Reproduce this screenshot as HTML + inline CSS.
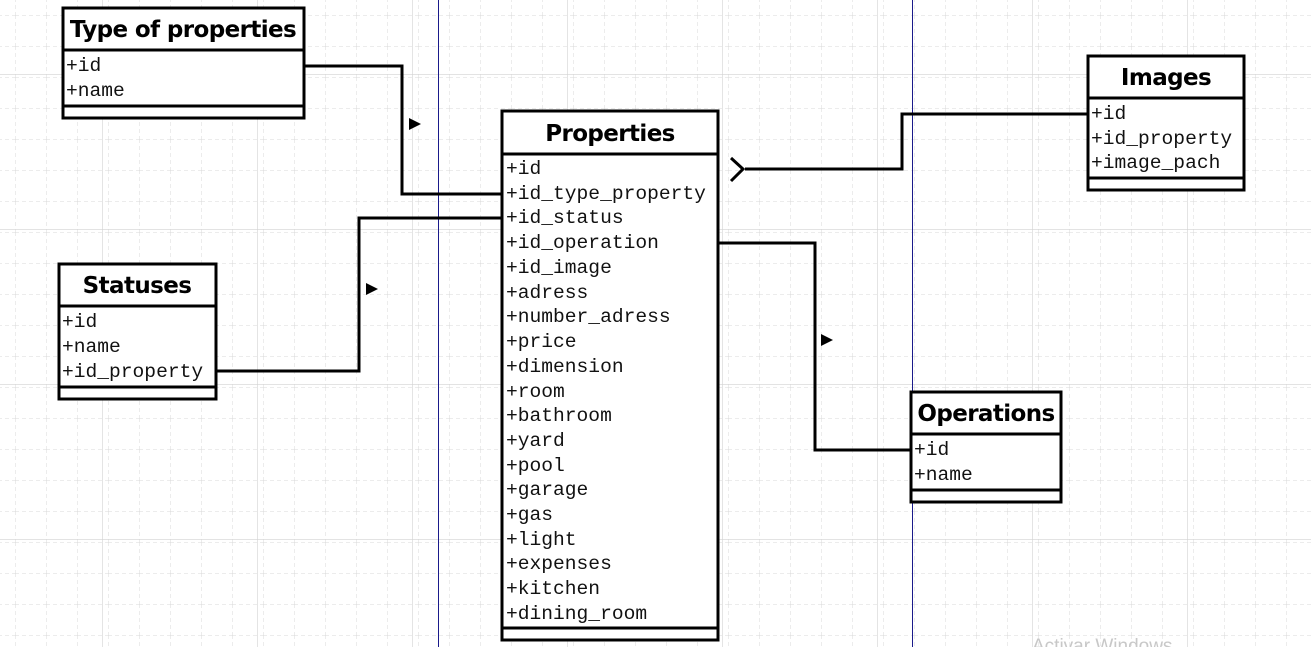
<!DOCTYPE html>
<html><head><meta charset="utf-8"><style>
html,body{margin:0;padding:0;background:#fff;width:1311px;height:647px;overflow:hidden}
svg{display:block}
.h{font-family:"DejaVu Sans","Liberation Sans",sans-serif;font-weight:bold;font-size:23px;fill:#000;letter-spacing:-0.6px}
.r{font-family:"Liberation Mono",monospace;font-size:19.6px;fill:#111}
</style></head><body>
<svg width="1311" height="647" viewBox="0 0 1311 647" xmlns="http://www.w3.org/2000/svg">
<defs>
<pattern id="g" x="15" y="15" width="31" height="31" patternUnits="userSpaceOnUse">
<path d="M0 0H31M0 0V31" stroke="#d8d8d8" stroke-width="1" stroke-dasharray="4 3" fill="none"/>
</pattern>
<pattern id="G" x="102" y="74" width="155" height="155" patternUnits="userSpaceOnUse">
<path d="M0 0H155M0 0V155" stroke="#d2d2d2" stroke-width="1.2" fill="none"/>
</pattern>
</defs>
<rect width="1311" height="647" fill="url(#g)"/>
<rect width="1311" height="647" fill="url(#G)"/>
<line x1="438.5" y1="0" x2="438.5" y2="647" stroke="#1a1a8a" stroke-width="1"/>
<line x1="912.5" y1="0" x2="912.5" y2="647" stroke="#1a1a8a" stroke-width="1"/>

<g fill="none" stroke="#000" stroke-width="3">
<polyline points="304,66 402,66 402,194 501,194"/>
<polyline points="216,371 359,371 359,218 501,218"/>
<polyline points="745,169 902,169 902,114 1087,114"/>
<polyline points="731,158 743,169 731,181"/>
<polyline points="718,243 815,243 815,450 910,450"/>
</g>
<g fill="#000">
<polygon points="409,118 421,124 409,130"/>
<polygon points="366,283 378,289 366,295"/>
<polygon points="821,334 833,340 821,346"/>
</g>

<g fill="#fff" stroke="#000" stroke-width="3">
<rect x="63" y="8" width="241" height="110"/>
<rect x="502" y="111" width="216" height="529"/>
<rect x="59" y="264" width="157" height="135"/>
<rect x="1088" y="56" width="156" height="134"/>
<rect x="911" y="392" width="150" height="110"/>
</g>
<g stroke="#000" stroke-width="3">
<line x1="63" y1="50" x2="304" y2="50"/><line x1="63" y1="106" x2="304" y2="106"/>
<line x1="502" y1="154" x2="718" y2="154"/><line x1="502" y1="628" x2="718" y2="628"/>
<line x1="59" y1="306" x2="216" y2="306"/><line x1="59" y1="387" x2="216" y2="387"/>
<line x1="1088" y1="98" x2="1244" y2="98"/><line x1="1088" y1="178" x2="1244" y2="178"/>
<line x1="911" y1="434" x2="1061" y2="434"/><line x1="911" y1="490" x2="1061" y2="490"/>
</g>

<text class="h" x="183" y="37" text-anchor="middle">Type of properties</text>
<text class="r" x="66" y="71">+id</text>
<text class="r" x="66" y="96">+name</text>

<text class="h" x="610" y="141" text-anchor="middle">Properties</text>
<g class="r">
<text x="506" y="174">+id</text>
<text x="506" y="199">+id_type_property</text>
<text x="506" y="223">+id_status</text>
<text x="506" y="248">+id_operation</text>
<text x="506" y="273">+id_image</text>
<text x="506" y="298">+adress</text>
<text x="506" y="322">+number_adress</text>
<text x="506" y="347">+price</text>
<text x="506" y="372">+dimension</text>
<text x="506" y="397">+room</text>
<text x="506" y="421">+bathroom</text>
<text x="506" y="446">+yard</text>
<text x="506" y="471">+pool</text>
<text x="506" y="495">+garage</text>
<text x="506" y="520">+gas</text>
<text x="506" y="545">+light</text>
<text x="506" y="569">+expenses</text>
<text x="506" y="594">+kitchen</text>
<text x="506" y="619">+dining_room</text>
</g>

<text class="h" x="137" y="293" text-anchor="middle">Statuses</text>
<text class="r" x="62" y="327">+id</text>
<text class="r" x="62" y="352">+name</text>
<text class="r" x="62" y="377">+id_property</text>

<text class="h" x="1166" y="85" text-anchor="middle">Images</text>
<text class="r" x="1091" y="119">+id</text>
<text class="r" x="1091" y="144">+id_property</text>
<text class="r" x="1091" y="168">+image_pach</text>

<text class="h" x="986" y="421" text-anchor="middle">Operations</text>
<text class="r" x="914" y="455">+id</text>
<text class="r" x="914" y="480">+name</text>

<text x="1032" y="652" font-family="Liberation Sans,sans-serif" font-size="19" fill="#c8c8c8">Activar Windows</text>
</svg>
</body></html>
